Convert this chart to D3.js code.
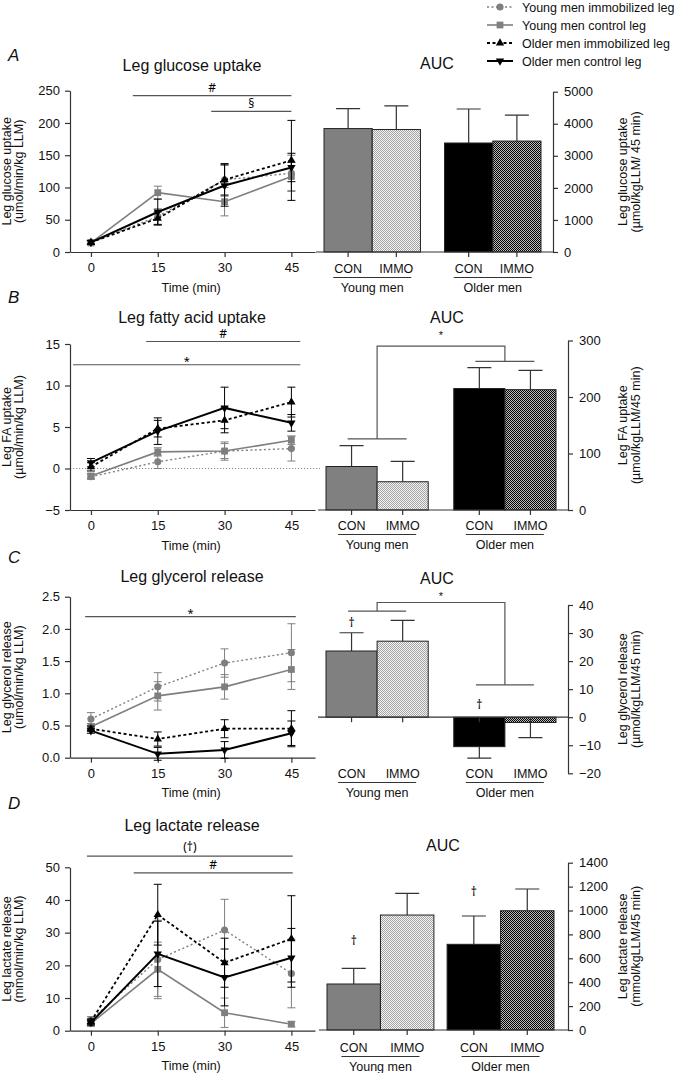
<!DOCTYPE html>
<html>
<head>
<meta charset="utf-8">
<script src="https://cdn.jsdelivr.net/npm/d3@7"></script>
<style>
  body { margin: 0; background: #fff; }
  text { font-family: "Liberation Sans", Arial, sans-serif; fill: #111; }
  text.mark { font-family: "Noto Sans", "DejaVu Sans", sans-serif; font-variant-emoji: text; fill: #000; }
</style>
</head>
<body>
<svg id="fig" width="680" height="1073"></svg>
<script>
// ---- data ----
const times = [0, 15, 30, 45];
const seriesNames = ["Young men immobilized leg", "Young men control leg", "Older men immobilized leg", "Older men control leg"];
const barGroups = ["Young men", "Older men"];
const barCategories = ["CON", "IMMO"];

// A  glucose uptake (umol/min/kg LLM)
const glucoseYoungImmo = [15, 55, 112, 122];
const glucoseYoungImmoSem = [3, 12, 23, 28];
const glucoseYoungCon = [14, 92, 78, 117];
const glucoseYoungConSem = [3, 10, 22, 22];
const glucoseOldImmo = [15, 52, 112, 142];
const glucoseOldImmoSem = [3, 10, 25, 62];
const glucoseOldCon = [15, 62, 103, 131];
const glucoseOldConSem = [3, 20, 32, 22];
const glucoseTicks = [0, 50, 100, 150, 200, 250];
const glucoseAuc = [3850, 3820, 3400, 3460];
const glucoseAucSem = [620, 740, 1060, 810];
const glucoseAucTicks = [0, 1000, 2000, 3000, 4000, 5000];

// B  fatty acid uptake
const faYoungImmo = [-1.0, 0.8, 2.1, 2.4];
const faYoungImmoSem = [0.3, 0.8, 0.9, 1.5];
const faYoungCon = [-0.9, 2.0, 2.1, 3.4];
const faYoungConSem = [0.3, 0.5, 1.1, 0.5];
const faOldImmo = [0.2, 4.8, 5.8, 8.0];
const faOldImmoSem = [0.5, 1.0, 1.5, 1.8];
const faOldCon = [0.7, 4.5, 7.3, 5.5];
const faOldConSem = [0.5, 1.6, 2.5, 1.0];
const faTicks = [-5, 0, 5, 10, 15];
const faAuc = [77, 50, 215, 213];
const faAucSem = [37, 36, 37, 34];
const faAucTicks = [0, 100, 200, 300];

// C  glycerol release
const glyYoungImmo = [0.60, 1.10, 1.47, 1.63];
const glyYoungImmoSem = [0.10, 0.22, 0.22, 0.45];
const glyYoungCon = [0.48, 0.96, 1.10, 1.37];
const glyYoungConSem = [0.05, 0.22, 0.19, 0.31];
const glyOldImmo = [0.45, 0.29, 0.45, 0.45];
const glyOldImmoSem = [0.04, 0.11, 0.14, 0.28];
const glyOldCon = [0.42, 0.06, 0.12, 0.38];
const glyOldConSem = [0.04, 0.10, 0.13, 0.19];
const glyTicks = [0, 0.5, 1.0, 1.5, 2.0, 2.5];
const glyAuc = [23.6, 27.1, -10.5, -1.9];
const glyAucSem = [6.5, 7.4, 4.1, 5.4];
const glyAucTicks = [-20, -10, 0, 10, 20, 30, 40];

// D  lactate release
const lacYoungImmo = [3.3, 21.8, 30.8, 17.5];
const lacYoungImmoSem = [1.0, 12, 9.4, 10.5];
const lacYoungCon = [2.2, 18.8, 5.5, 2.0];
const lacYoungConSem = [0.8, 8.3, 4.5, 0.8];
const lacOldImmo = [2.8, 35.5, 20.8, 28.1];
const lacOldImmoSem = [0.8, 9.3, 7.5, 13.2];
const lacOldCon = [2.5, 23.5, 16.3, 22.3];
const lacOldConSem = [0.8, 10, 8.7, 9.0];
const lacTicks = [0, 10, 20, 30, 40, 50];
const lacAuc = [385, 962, 717, 998];
const lacAucSem = [131, 182, 237, 182];
const lacAucTicks = [0, 200, 400, 600, 800, 1000, 1200, 1400];

// ---- styles ----
const FONT = "Liberation Sans, Arial, sans-serif";
const GRAY = "#7f7f7f";
const seriesStyle = [
  { color: GRAY, dash: "2,2.5", shape: d3.symbolCircle, size: 40, rot: 0, width: 1.4 },
  { color: GRAY, dash: null, shape: d3.symbolSquare, size: 46, rot: 0, width: 1.6 },
  { color: "#000", dash: "3,2.5", shape: d3.symbolTriangle, size: 30, rot: 0, width: 1.8 },
  { color: "#000", dash: null, shape: d3.symbolTriangle, size: 30, rot: 180, width: 2 }
];
const barFills = ["#808080", "url(#lightChk)", "#000", "url(#darkChk)"];

const panels = [
  { letter: "A", title: "Leg glucose uptake", letterY: 61, titleY: 71,
    yLabel: ["Leg glucose uptake", "(umol/min/kg LLM)"],
    means: [glucoseYoungImmo, glucoseYoungCon, glucoseOldImmo, glucoseOldCon],
    sems: [glucoseYoungImmoSem, glucoseYoungConSem, glucoseOldImmoSem, glucoseOldConSem],
    yDomain: [0, 250], yTicks: glucoseTicks, lineRange: [252, 90.7], fmt: d3.format("d"),
    sig: [{ label: "#", from: 9.4, to: 45, level: 242.5, off: 4 }, { label: "§", from: 27, to: 45, level: 218, off: 3 }],
    auc: glucoseAuc, aucSem: glucoseAucSem, aucTicks: glucoseAucTicks,
    barDomain: [0, 5000], barRange: [252, 91.7], barAxisX: 553, groupRange: [324, 541], groupPad: 0.2,
    labelY: 268, aucX: 437, aucY: 69,
    rLabel: ["Leg glucose uptake", "(µmol/kgLLM/ 45 min)"] },
  { letter: "B", title: "Leg fatty acid uptake", letterY: 303, titleY: 322.5,
    yLabel: ["Leg FA uptake", "(µmol/min/kg LLM)"],
    means: [faYoungImmo, faYoungCon, faOldImmo, faOldCon],
    sems: [faYoungImmoSem, faYoungConSem, faOldImmoSem, faOldConSem],
    yDomain: [-5, 15], yTicks: faTicks, lineRange: [510, 344], fmt: d3.format("d"), zeroLine: true,
    sig: [{ label: "#", from: 12.4, to: 47, level: 15.3, off: 4 }, { label: "*", from: -4, to: 47, level: 12.5, off: 0 }],
    auc: faAuc, aucSem: faAucSem, aucTicks: faAucTicks,
    barDomain: [0, 300], barRange: [510, 340.5], barAxisX: 568, groupRange: [326, 556], groupPad: 0.2,
    labelY: 525, aucX: 447, aucY: 322.5,
    bracket: { young: 126, top: 290, old: 263, half: 29.5, star: 315 },
    rLabel: ["Leg FA uptake", "(µmol/kgLLM/45 min)"] },
  { letter: "C", title: "Leg glycerol release", letterY: 563, titleY: 581.5,
    yLabel: ["Leg glycerol release", "(umol/min/kg LLM)"],
    means: [glyYoungImmo, glyYoungCon, glyOldImmo, glyOldCon],
    sems: [glyYoungImmoSem, glyYoungConSem, glyOldImmoSem, glyOldConSem],
    yDomain: [0, 2.5], yTicks: glyTicks, lineRange: [757.7, 596.7], fmt: d3.format(".1f"),
    sig: [{ label: "*", from: -1.3, to: 46, level: 2.19, off: 0 }],
    auc: glyAuc, aucSem: glyAucSem, aucTicks: glyAucTicks,
    barDomain: [-20, 40], barRange: [773.3, 605], barAxisX: 568, groupRange: [326, 556], groupPad: 0.2,
    labelY: 773, aucX: 437, aucY: 584,
    bracket: { young: 37.8, top: 40.9, old: 11.5, half: 29, star: 44.1 },
    daggers: [{ bar: 0, level: 33.5 }, { bar: 2, level: 4.4 }],
    rLabel: ["Leg glycerol release", "(µmol/kgLLM/45 min)"] },
  { letter: "D", title: "Leg lactate release", letterY: 809, titleY: 831,
    yLabel: ["Leg lactate release", "(mmol/min/kg LLM)"],
    means: [lacYoungImmo, lacYoungCon, lacOldImmo, lacOldCon],
    sems: [lacYoungImmoSem, lacYoungConSem, lacOldImmoSem, lacOldConSem],
    yDomain: [0, 50], yTicks: lacTicks, lineRange: [1030.7, 867.3], fmt: d3.format("d"),
    sig: [{ label: "(†)", from: -0.9, to: 45.3, level: 53.4, off: 5 }, { label: "#", from: 9.6, to: 45.3, level: 48.3, off: 4 }],
    auc: lacAuc, aucSem: lacAucSem, aucTicks: lacAucTicks,
    barDomain: [0, 1400], barRange: [1030, 862.7], barAxisX: 568, groupRange: [327, 554], groupPad: 0.11,
    labelY: 1047, aucX: 443, aucY: 851,
    daggers: [{ bar: 0, level: 747 }, { bar: 2, level: 1157 }],
    rLabel: ["Leg lactate release", "(mmol/kgLLM/45 min)"] }
];

const svg = d3.select("#fig");

// checker patterns for the IMMO bars
const defs = svg.append("defs");
function checker(id, bg, fg) {
  const p = defs.append("pattern").attr("id", id).attr("width", 2).attr("height", 2)
    .attr("patternUnits", "userSpaceOnUse");
  p.append("rect").attr("width", 2).attr("height", 2).attr("fill", bg);
  p.append("rect").attr("width", 1).attr("height", 1).attr("fill", fg);
  p.append("rect").attr("x", 1).attr("y", 1).attr("width", 1).attr("height", 1).attr("fill", fg);
}
checker("lightChk", "#f4f4f4", "#a4a4a4");
checker("darkChk", "#bdbdbd", "#000");

function styleAxis(g) {
  g.attr("font-family", FONT).attr("font-size", 13);
  g.select(".domain").attr("stroke", "#333").attr("stroke-width", 1.2);
  g.selectAll(".tick line").attr("stroke", "#333").attr("stroke-width", 1.2);
  g.selectAll(".tick text").attr("fill", "#111");
}

function rotLabel(x, cy, str, size) {
  svg.append("text")
    .attr("transform", `translate(${x},${cy}) rotate(-90)`)
    .attr("text-anchor", "middle")
    .attr("font-size", size || 12.5)
    .text(str);
}

const x = d3.scaleLinear().domain([-4.7, 50.3]).range([70, 315]);

function drawLinePanel(p) {
  const y = d3.scaleLinear().domain(p.yDomain).range(p.lineRange);
  const g = svg.append("g");

  // panel letter and title
  svg.append("text").attr("x", 8).attr("y", p.letterY).attr("font-size", 17)
    .attr("font-style", "italic").text(p.letter);
  svg.append("text").attr("x", 192).attr("y", p.titleY).attr("font-size", 16)
    .attr("text-anchor", "middle").text(p.title);

  if (p.zeroLine) {
    g.append("line").attr("x1", 70).attr("x2", 320).attr("y1", y(0)).attr("y2", y(0))
      .attr("stroke", "#888").attr("stroke-dasharray", "1.2,1.8");
  }

  g.append("g").attr("transform", `translate(0,${p.lineRange[0]})`)
    .call(d3.axisBottom(x).tickValues(times).tickSize(5).tickPadding(6).tickSizeOuter(0))
    .call(styleAxis);
  g.append("g").attr("transform", "translate(70,0)")
    .call(d3.axisLeft(y).tickValues(p.yTicks).tickFormat(p.fmt).tickSize(5).tickPadding(5).tickSizeOuter(0))
    .call(styleAxis);

  svg.append("text").attr("x", x(22.5)).attr("y", p.lineRange[0] + 39.5)
    .attr("text-anchor", "middle").attr("font-size", 12.5).text("Time (min)");
  const cy = (p.lineRange[0] + p.lineRange[1]) / 2;
  rotLabel(10.5, cy, p.yLabel[0]);
  rotLabel(22.5, cy, p.yLabel[1]);

  // significance bars
  p.sig.forEach(s => {
    g.append("line").attr("x1", x(s.from)).attr("x2", x(s.to))
      .attr("y1", y(s.level)).attr("y2", y(s.level))
      .attr("stroke", "#555").attr("stroke-width", 1.2);
    g.append("text").attr("class", "mark")
      .attr("x", (x(s.from) + x(s.to)) / 2).attr("y", y(s.level) - s.off)
      .attr("text-anchor", "middle").attr("font-size", s.label === "*" ? 11 : 12)
      .text(s.label);
  });

  const line = d3.line().x(d => x(d.t)).y(d => y(d.v));
  p.means.forEach((m, i) => {
    const st = seriesStyle[i];
    const pts = times.map((t, k) => ({ t: t, v: m[k], e: p.sems[i][k] }));
    const sg = g.append("g");
    sg.selectAll(".err").data(pts).join("path")
      .attr("d", d => `M${x(d.t)},${y(d.v - d.e)}V${y(d.v + d.e)}` +
        `M${x(d.t) - 4},${y(d.v - d.e)}h8M${x(d.t) - 4},${y(d.v + d.e)}h8`)
      .attr("stroke", st.color).attr("stroke-width", 1).attr("fill", "none");
    sg.append("path").datum(pts).attr("d", line).attr("fill", "none")
      .attr("stroke", st.color).attr("stroke-width", st.width)
      .attr("stroke-dasharray", st.dash);
    sg.selectAll(".mk").data(pts).join("path")
      .attr("d", d3.symbol().type(st.shape).size(st.size))
      .attr("transform", d => `translate(${x(d.t)},${y(d.v)}) rotate(${st.rot})`)
      .attr("fill", st.color);
  });
}

function drawBarPanel(p) {
  const y = d3.scaleLinear().domain(p.barDomain).range(p.barRange);
  const gx = d3.scaleBand().domain(barGroups).range(p.groupRange).paddingInner(p.groupPad);
  const cx = d3.scaleBand().domain(barCategories).range([0, gx.bandwidth()]);
  const g = svg.append("g");
  const bars = p.auc.map((v, i) => {
    const grp = barGroups[Math.floor(i / 2)], cat = barCategories[i % 2];
    return { grp, cat, v, e: p.aucSem[i], x0: gx(grp) + cx(cat), fill: barFills[i] };
  });
  const bw = cx.bandwidth();

  svg.append("text").attr("x", p.aucX).attr("y", p.aucY).attr("font-size", 16)
    .attr("text-anchor", "middle").text("AUC");

  // error bars (one sided, away from zero)
  g.selectAll(".err").data(bars).join("path")
    .attr("d", d => {
      const c = d.x0 + bw / 2, tip = y(d.v + (d.v >= 0 ? d.e : -d.e));
      return `M${c},${y(d.v)}V${tip}M${c - 12},${tip}h24`;
    })
    .attr("stroke", "#333").attr("stroke-width", 1.2).attr("fill", "none");

  g.selectAll(".bar").data(bars).join("rect")
    .attr("x", d => d.x0).attr("width", bw)
    .attr("y", d => Math.min(y(d.v), y(0)))
    .attr("height", d => Math.abs(y(d.v) - y(0)))
    .attr("fill", d => d.fill).attr("stroke", "#222").attr("stroke-width", 1);

  // baseline and category ticks
  g.append("line").attr("x1", p.groupRange[0] - 8).attr("x2", p.barAxisX)
    .attr("y1", y(0)).attr("y2", y(0)).attr("stroke", "#333").attr("stroke-width", 1.2);
  g.selectAll(".ctick").data(bars).join("line")
    .attr("x1", d => d.x0 + bw / 2).attr("x2", d => d.x0 + bw / 2)
    .attr("y1", y(0)).attr("y2", y(0) + 5).attr("stroke", "#333").attr("stroke-width", 1.2);

  g.append("g").attr("transform", `translate(${p.barAxisX},0)`)
    .call(d3.axisRight(y).tickValues(p.aucTicks).tickFormat(d3.format("d")).tickSize(5).tickPadding(6).tickSizeOuter(0))
    .call(styleAxis);

  g.selectAll(".clab").data(bars).join("text")
    .attr("x", d => d.x0 + bw / 2).attr("y", p.labelY + 4.5)
    .attr("text-anchor", "middle").attr("font-size", 12.5).text(d => d.cat);
  barGroups.forEach(grp => {
    const c = gx(grp) + gx.bandwidth() / 2;
    g.append("line").attr("x1", c - 39).attr("x2", c + 39)
      .attr("y1", p.labelY + 9.5).attr("y2", p.labelY + 9.5)
      .attr("stroke", "#333").attr("stroke-width", 1.2);
    g.append("text").attr("x", c).attr("y", p.labelY + 24)
      .attr("text-anchor", "middle").attr("font-size", 12.5).text(grp);
  });

  if (p.bracket) {
    const b = p.bracket;
    const yc = gx("Young men") + gx.bandwidth() / 2, oc = gx("Older men") + gx.bandwidth() / 2;
    g.append("path")
      .attr("d", `M${yc - b.half},${y(b.young)}H${yc + b.half}M${yc},${y(b.young)}V${y(b.top)}H${oc}V${y(b.old)}` +
        `M${oc - b.half},${y(b.old)}H${oc + b.half}`)
      .attr("stroke", "#555").attr("stroke-width", 1.2).attr("fill", "none");
    g.append("text").attr("x", (yc + oc) / 2).attr("y", y(b.star) + 7)
      .attr("text-anchor", "middle").attr("font-size", 11).text("*");
  }
  (p.daggers || []).forEach(dg => {
    const d = bars[dg.bar];
    g.append("text").attr("class", "mark")
      .attr("x", d.x0 + bw / 2).attr("y", y(dg.level) + 4)
      .attr("text-anchor", "middle").attr("font-size", 12).text("†");
  });

  const cy = (p.barRange[0] + p.barRange[1]) / 2;
  rotLabel(627, cy, p.rLabel[0]);
  rotLabel(640, cy, p.rLabel[1]);
}

panels.forEach(p => { drawLinePanel(p); drawBarPanel(p); });

// legend
const legend = svg.append("g");
seriesNames.forEach((name, i) => {
  const st = seriesStyle[i];
  const ly = [7, 25, 43, 61][i];
  legend.append("line").attr("x1", 487).attr("x2", 513).attr("y1", ly).attr("y2", ly)
    .attr("stroke", st.color).attr("stroke-width", st.width).attr("stroke-dasharray", st.dash);
  legend.append("path").attr("d", d3.symbol().type(st.shape).size(st.size))
    .attr("transform", `translate(500,${ly}) rotate(${st.rot})`).attr("fill", st.color);
  legend.append("text").attr("x", 522).attr("y", ly + 4.5).attr("font-size", 12.5).text(name);
});
</script>
</body>
</html>
